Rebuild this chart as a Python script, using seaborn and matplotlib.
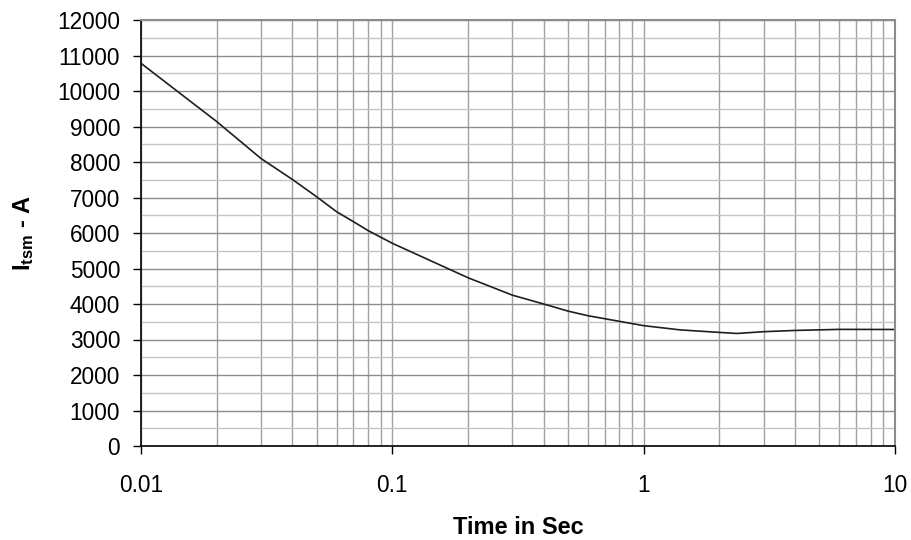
"""
I_tsm vs time (surge current curve), log time axis
"""
import numpy as np
import pandas as pd
import matplotlib
matplotlib.use("Agg")
import matplotlib.pyplot as plt
from matplotlib.ticker import LogLocator, FixedLocator, NullFormatter, FuncFormatter
import seaborn as sns

# ========== data ==========
time_s = [0.01, 0.02, 0.03, 0.04, 0.05, 0.06, 0.07, 0.08, 0.1,
          0.2, 0.3, 0.4, 0.5, 0.6, 1.0, 1.4, 2.0, 2.35, 3.0, 4.0, 6.0, 10.0]
itsm_a = [10780, 9140, 8100, 7510, 7020, 6600, 6320, 6070, 5710,
          4740, 4250, 4000, 3800, 3670, 3390, 3270, 3200, 3170, 3220, 3255, 3285, 3282]
y_ticks = list(range(0, 12001, 1000))
x_ticks = [0.01, 0.1, 1, 10]
x_tick_labels = ["0.01", "0.1", "1", "10"]

df = pd.DataFrame({"time": time_s, "itsm": itsm_a})

sns.set_theme(style="white")
plt.rcParams["font.family"] = ["Liberation Sans", "DejaVu Sans"]
plt.rcParams["mathtext.fontset"] = "custom"
plt.rcParams["mathtext.rm"] = "Liberation Sans"
plt.rcParams["mathtext.bf"] = "Liberation Sans:bold"

fig = plt.figure(figsize=(9.12, 5.4), dpi=100)
ax = fig.add_axes([141 / 912, 1 - 446 / 540, (895 - 141) / 912, (446 - 20) / 540])

sns.lineplot(data=df, x="time", y="itsm", ax=ax, color="#1e1e1e", linewidth=1.2)

ax.set_xscale("log")
ax.set_xlim(0.01, 10)
ax.set_ylim(0, 12000)

ax.xaxis.set_major_locator(FixedLocator(x_ticks))
ax.xaxis.set_major_formatter(FuncFormatter(lambda v, p: x_tick_labels[x_ticks.index(v)] if v in x_ticks else ""))
ax.xaxis.set_minor_locator(LogLocator(base=10, subs=np.arange(2, 10)))
ax.xaxis.set_minor_formatter(NullFormatter())
ax.yaxis.set_major_locator(FixedLocator(y_ticks))
ax.yaxis.set_minor_locator(FixedLocator([v + 500 for v in y_ticks[:-1]]))

# ---- grid ----
ax.grid(True, which="major", axis="y", color="#8c8c8c", linewidth=1.0)
ax.grid(True, which="minor", axis="y", color="#c4c4c4", linewidth=1.0)
ax.grid(True, which="both", axis="x", color="#a0a0a0", linewidth=1.0)
ax.set_axisbelow(True)

# ---- spines / ticks ----
for side in ["top", "right"]:
    ax.spines[side].set_color("#8c8c8c")
    ax.spines[side].set_linewidth(1.5)
for side in ["left", "bottom"]:
    ax.spines[side].set_color("black")
    ax.spines[side].set_linewidth(1.2)

ax.tick_params(axis="both", which="major", direction="out", length=6, width=1,
               color="black", labelsize=16.3, labelcolor="black", left=True, bottom=True)
ax.tick_params(axis="x", which="major", pad=14)
ax.tick_params(axis="y", which="major", pad=9)
ax.tick_params(axis="both", which="minor", length=0)

ax.set_xlabel("Time in Sec", fontsize=17, fontweight="bold", labelpad=14, color="black")
ax.set_ylabel(r"$\mathbf{I_{tsm}}$ - A", fontsize=17, fontweight="bold", labelpad=15, color="black")

fig.savefig("out.png", dpi=100)
plt.close(fig)
